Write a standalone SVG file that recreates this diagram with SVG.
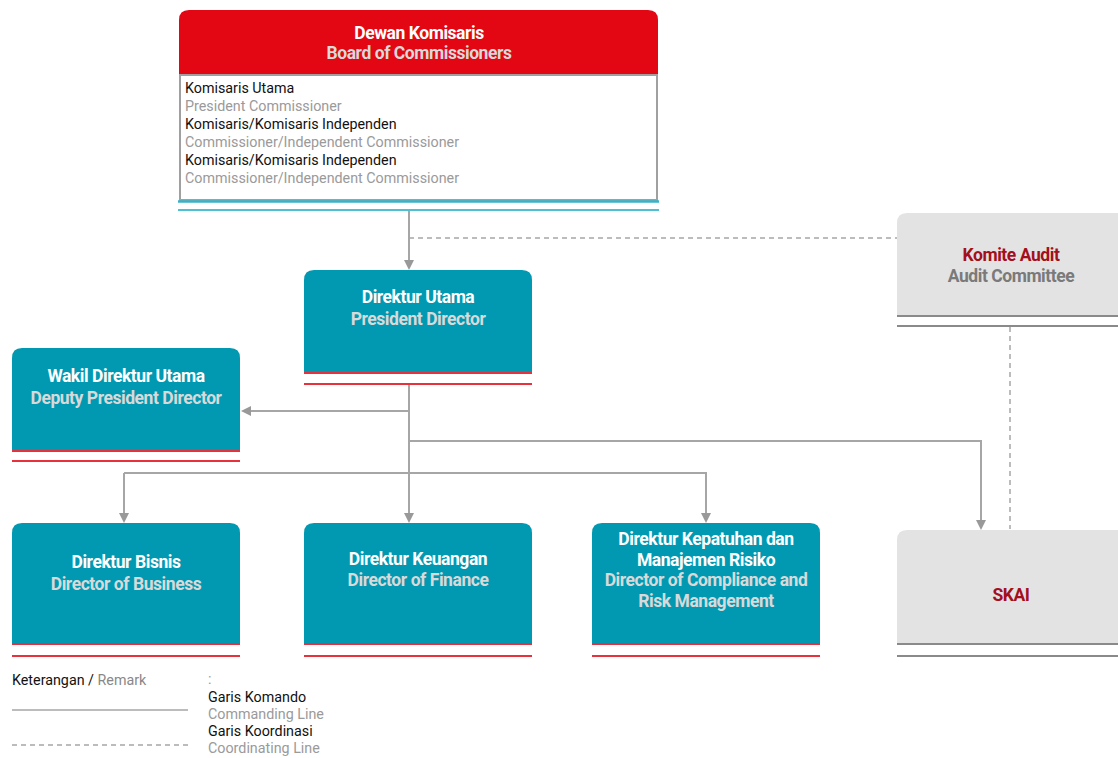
<svg xmlns="http://www.w3.org/2000/svg" width="1118" height="758" viewBox="0 0 1118 758">
<style>
.t{font-family:Roboto,"Liberation Sans",sans-serif;font-weight:bold;font-size:17.5px;letter-spacing:-0.45px;text-anchor:middle}
.w{fill:#ffffff}
.g{fill:#d9d9d9}
.dr{fill:#a3101c}
.gr{fill:#7a7a7a}
.b{font-family:Roboto,"Liberation Sans",sans-serif;font-size:14.3px}
.k{fill:#111}
.l{fill:#9a9a9a}
.teal{fill:#0099b1}
.gbox{fill:#e3e3e3}
.rl{stroke:#e8313c;stroke-width:2}
.gl{stroke:#8a8a8a;stroke-width:2}
.c{fill:none;stroke:#a6a6a6;stroke-width:2}
.d{fill:none;stroke:#a6a6a6;stroke-width:1.5;stroke-dasharray:5 4}
</style>
<defs>
<marker id="ah" markerWidth="10" markerHeight="10" refX="8" refY="5" orient="auto" markerUnits="userSpaceOnUse" viewBox="0 0 10 10">
<path d="M0,0 L10,5 L0,10 Z" fill="#999"/>
</marker>
</defs>
<rect width="1118" height="758" fill="#fff"/>

<g id="connectors">
<path class="c" d="M409,211 V268" marker-end="url(#ah)"/>
<path class="d" d="M409,238 H897"/>
<path class="c" d="M409,385 V521" marker-end="url(#ah)"/>
<path class="c" d="M409,411 H243" marker-end="url(#ah)"/>
<path class="c" d="M409,441 H981 V528" marker-end="url(#ah)"/>
<path class="c" d="M124,473 H706 V521" marker-end="url(#ah)"/>
<path class="c" d="M124,473 V521" marker-end="url(#ah)"/>
<path class="d" d="M1010,327 V529"/>
</g>

<g id="board">
<path d="M179,75 V20 Q179,10 189,10 H648 Q658,10 658,20 V75 Z" fill="#e30613"/>
<rect x="180" y="75" width="477" height="125" fill="#fff" stroke="#a0a0a0" stroke-width="2"/>
<line x1="178" y1="201.5" x2="659" y2="201.5" stroke="#37b3c8" stroke-width="2.5"/>
<line x1="178" y1="210" x2="659" y2="210" stroke="#4fc0d2" stroke-width="2"/>
<text class="t w" x="419" y="39">Dewan Komisaris</text>
<text class="t g" x="419" y="59">Board of Commissioners</text>
<text class="b k" x="185" y="93">Komisaris Utama</text>
<text class="b l" x="185" y="111">President Commissioner</text>
<text class="b k" x="185" y="129">Komisaris/Komisaris Independen</text>
<text class="b l" x="185" y="147">Commissioner/Independent Commissioner</text>
<text class="b k" x="185" y="165">Komisaris/Komisaris Independen</text>
<text class="b l" x="185" y="183">Commissioner/Independent Commissioner</text>
</g>

<g id="president">
<path class="teal" d="M304,373 V280 Q304,270 314,270 H522 Q532,270 532,280 V373 Z"/>
<line class="rl" x1="304" y1="373" x2="532" y2="373"/>
<line class="rl" x1="304" y1="384" x2="532" y2="384"/>
<text class="t w" x="418" y="303">Direktur Utama</text>
<text class="t g" x="418" y="325">President Director</text>
</g>

<g id="deputy">
<path class="teal" d="M12,451 V358 Q12,348 22,348 H230 Q240,348 240,358 V451 Z"/>
<line class="rl" x1="12" y1="451" x2="240" y2="451"/>
<line class="rl" x1="12" y1="461" x2="240" y2="461"/>
<text class="t w" x="126" y="382">Wakil Direktur Utama</text>
<text class="t g" x="126" y="404">Deputy President Director</text>
</g>

<g id="bisnis">
<path class="teal" d="M12,644 V533 Q12,523 22,523 H230 Q240,523 240,533 V644 Z"/>
<line class="rl" x1="12" y1="644" x2="240" y2="644"/>
<line class="rl" x1="12" y1="656" x2="240" y2="656"/>
<text class="t w" x="126" y="568">Direktur Bisnis</text>
<text class="t g" x="126" y="590">Director of Business</text>
</g>

<g id="keuangan">
<path class="teal" d="M304,644 V533 Q304,523 314,523 H522 Q532,523 532,533 V644 Z"/>
<line class="rl" x1="304" y1="644" x2="532" y2="644"/>
<line class="rl" x1="304" y1="656" x2="532" y2="656"/>
<text class="t w" x="418" y="565">Direktur Keuangan</text>
<text class="t g" x="418" y="586">Director of Finance</text>
</g>

<g id="kepatuhan">
<path class="teal" d="M592,644 V533 Q592,523 602,523 H810 Q820,523 820,533 V644 Z"/>
<line class="rl" x1="592" y1="644" x2="820" y2="644"/>
<line class="rl" x1="592" y1="656" x2="820" y2="656"/>
<text class="t w" x="706" y="545">Direktur Kepatuhan dan</text>
<text class="t w" x="706" y="566">Manajemen Risiko</text>
<text class="t g" x="706" y="586">Director of Compliance and</text>
<text class="t g" x="706" y="607">Risk Management</text>
</g>

<g id="komite-audit">
<path class="gbox" d="M897,316 V223 Q897,213 907,213 H1118 V316 Z"/>
<line class="gl" x1="897" y1="316" x2="1118" y2="316"/>
<line class="gl" x1="897" y1="326" x2="1118" y2="326"/>
<text class="t dr" x="1011" y="261">Komite Audit</text>
<text class="t gr" x="1011" y="282">Audit Committee</text>
</g>

<g id="skai">
<path class="gbox" d="M897,644 V540 Q897,530 907,530 H1118 V644 Z"/>
<line class="gl" x1="897" y1="644" x2="1118" y2="644"/>
<line class="gl" x1="897" y1="656" x2="1118" y2="656"/>
<text class="t dr" x="1011" y="601">SKAI</text>
</g>

<g id="legend">
<text class="b" x="12" y="685"><tspan fill="#111">Keterangan / </tspan><tspan fill="#888">Remark</tspan></text>
<text class="b l" x="208" y="684">:</text>
<text class="b k" x="208" y="702">Garis Komando</text>
<text class="b l" x="208" y="719">Commanding Line</text>
<text class="b k" x="208" y="736">Garis Koordinasi</text>
<text class="b l" x="208" y="753">Coordinating Line</text>
<line x1="12" y1="710" x2="188" y2="710" stroke="#a6a6a6" stroke-width="1.5"/>
<line x1="12" y1="745" x2="188" y2="745" stroke="#a6a6a6" stroke-width="1.5" stroke-dasharray="5 4"/>
</g>
</svg>
